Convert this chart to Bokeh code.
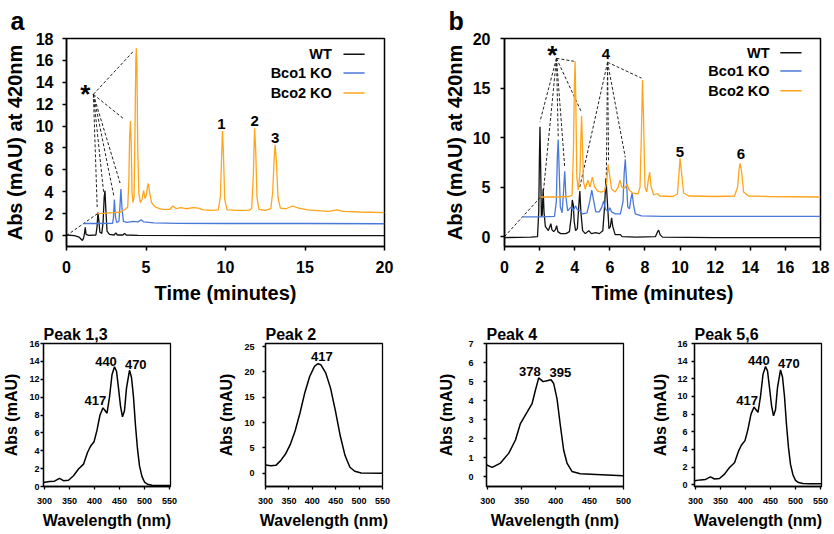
from bokeh.plotting import figure
from bokeh.layouts import column, row
from bokeh.core.properties import value
from bokeh.embed import file_html
from bokeh.resources import INLINE

FONT = "Liberation Sans"
C_WT = "#111111"
C_B1 = "#4a78d8"
C_B2 = "#ffa41b"
series_names = ["WT", "Bco1 KO", "Bco2 KO"]
series_colors = [C_WT, C_B1, C_B2]

# ---------------- panel a: chromatograms (time in min, Abs in mAU) ----------------
a_wt_t = [0.0, 0.5, 0.8, 1.0, 1.08, 1.14, 1.18, 1.23, 1.4, 1.85, 1.92, 1.98, 2.03, 2.1, 2.22, 2.3, 2.37,
          2.42, 2.47, 2.55, 2.7, 3.0, 3.1, 3.2, 3.55, 3.65, 3.75, 4.5, 10.0, 20.0]
a_wt_v = [0.05, 0.0, -0.15, -0.45, -0.2, 0.3, 0.75, 0.1, 0.02, 0.05, 0.8, 2.1, 1.4, 0.3, 0.2, 1.2, 3.5,
          4.1, 2.5, 0.4, 0.1, 0.05, 0.25, 0.05, 0.05, 0.2, 0.05, 0.02, 0.0, 0.0]
a_b1_t = [1.04, 2.0, 2.9, 2.95, 3.01, 3.08, 3.15, 3.3, 3.36, 3.42, 3.49, 3.58, 3.8, 4.2, 4.5, 4.7, 4.85,
          5.5, 7.0, 10.0, 15.0, 20.0]
a_b1_v = [1.1, 1.1, 1.12, 1.6, 3.3, 1.7, 1.2, 1.3, 2.6, 4.25, 2.5, 1.3, 1.2, 1.3, 1.25, 1.45, 1.25,
          1.15, 1.12, 1.1, 1.1, 1.08]
a_b2_t = [1.95, 2.5, 3.0, 3.4, 3.7, 3.85, 3.92, 3.97, 4.02, 4.07, 4.12, 4.18, 4.25, 4.31, 4.36, 4.39,
          4.43, 4.48, 4.55, 4.65, 4.75, 4.85, 4.93, 5.0, 5.1, 5.15, 5.22, 5.35, 5.6, 6.0, 6.5, 6.7,
          6.9, 7.2, 7.5, 8.0, 8.3, 8.6, 9.2, 9.55, 9.68, 9.75, 9.81, 9.87, 9.95, 10.1, 10.8, 11.5,
          11.65, 11.75, 11.83, 11.9, 11.98, 12.1, 12.5, 12.85, 12.97, 13.06, 13.12, 13.2, 13.3,
          13.45, 13.8, 14.2, 14.6, 15.2, 16.0, 16.5, 17.0, 17.4, 18.5, 20.0]
a_b2_v = [2.0, 2.05, 2.1, 2.15, 2.4, 2.6, 5.0, 9.0, 10.45, 8.5, 4.0, 3.0, 3.5, 10.0, 16.0, 17.1,
          15.5, 8.0, 3.8, 3.0, 3.3, 4.1, 3.4, 3.6, 4.5, 4.75, 4.0, 3.0, 2.6, 2.4, 2.4, 2.7,
          2.45, 2.55, 2.45, 2.55, 2.5, 2.35, 2.3, 2.35, 3.6, 7.0, 9.55, 7.5, 3.3, 2.35, 2.3, 2.3,
          2.5, 5.5, 9.8, 7.8, 3.5, 2.4, 2.3, 2.45, 4.0, 7.0, 8.3, 6.8, 3.5,
          2.5, 2.45, 2.7, 2.5, 2.35, 2.25, 2.2, 2.35, 2.2, 2.15, 2.1]
a_peak_text = ["1", "2", "3"]
a_peak_t = [9.75, 11.83, 13.13]
a_peak_v = [10.2, 10.45, 8.9]
a_star_pos = (1.19, 12.9)
a_star_anchor = (1.69, 12.9)
a_star_tgt_t = [4.25, 3.65, 1.93, 2.33, 2.98, 3.37]
a_star_tgt_v = [16.9, 10.6, 2.6, 4.0, 3.6, 4.8]
a_offset_t = [0.0, 1.95]
a_offset_v = [0.0, 2.0]
a_xticks = [0, 5, 10, 15, 20]
a_yticks = [0, 2, 4, 6, 8, 10, 12, 14, 16, 18]

# ---------------- panel b: chromatograms ----------------
b_wt_t = [0.0, 1.5, 1.88, 1.95, 1.99, 2.02, 2.06, 2.1, 2.15, 2.2, 2.25, 2.33, 2.42, 2.5, 2.58, 2.64,
          2.7, 2.8, 2.9, 2.97, 3.04, 3.2, 3.5, 3.7, 3.8, 3.86, 3.92, 3.97, 4.05, 4.15, 4.22, 4.29,
          4.35, 4.45, 4.6, 4.8, 4.95, 5.2, 5.4, 5.6, 5.7, 5.78, 5.85, 5.95, 6.03, 6.1, 6.17, 6.3,
          6.6, 6.7, 7.5, 8.6, 8.72, 8.78, 8.86, 9.0, 12.0, 18.0]
b_wt_v = [-0.1, -0.05, 0.0, 2.5, 8.0, 11.1, 7.0, 2.0, 2.2, 4.8, 2.5, 1.0, 0.8, 0.6, 1.0, 1.3,
          0.7, 0.5, 0.7, 1.1, 0.5, 0.3, 0.3, 0.5, 2.0, 3.7, 3.2, 1.5, 0.6, 0.8, 2.8, 4.6,
          2.5, 0.6, 0.3, 0.6, 0.3, 0.4, 0.3, 0.6, 3.0, 5.9, 3.8, 0.8, 1.0, 1.9, 1.0, 0.2,
          0.2, 0.0, -0.05, 0.0, 0.5, 0.65, 0.2, -0.05, -0.1, -0.1]
b_b1_t = [1.05, 2.0, 2.85, 2.95, 3.01, 3.06, 3.11, 3.18, 3.28, 3.36, 3.43, 3.5, 3.6, 3.7, 3.8, 3.9,
          4.05, 4.15, 4.3, 4.45, 4.7, 4.85, 4.97, 5.08, 5.2, 5.4, 5.55, 5.65, 5.75, 5.9, 6.0, 6.1,
          6.3, 6.6, 6.75, 6.82, 6.88, 6.94, 7.02, 7.12, 7.2, 7.27, 7.35, 7.45, 7.8, 9.0, 18.0]
b_b1_v = [2.0, 2.0, 2.05, 3.5, 8.0, 9.8, 7.0, 3.0, 2.4, 4.5, 6.6, 4.0, 2.6, 2.8, 3.0, 2.6,
          3.1, 2.7, 2.6, 2.3, 2.4, 3.5, 4.7, 3.6, 2.5, 2.5, 3.0, 3.6, 2.8, 2.5, 2.9, 2.5,
          2.3, 2.3, 3.5, 6.5, 7.8, 6.0, 3.0, 2.8, 3.8, 4.4, 3.2, 2.3, 2.1, 2.05, 2.05]
b_b2_t = [2.06, 3.0, 3.7, 3.85, 3.93, 3.98, 4.02, 4.06, 4.12, 4.2, 4.3, 4.36, 4.39, 4.43, 4.5, 4.6,
          4.75, 4.87, 5.0, 5.12, 5.3, 5.5, 5.7, 5.82, 5.9, 5.98, 6.1, 6.3, 6.48, 6.58, 6.68, 6.85,
          6.98, 7.1, 7.3, 7.6, 7.72, 7.8, 7.86, 7.92, 8.0, 8.1, 8.2, 8.27, 8.35, 8.5, 8.7, 8.85,
          9.6, 9.85, 9.93, 10.0, 10.08, 10.2, 10.5, 12.0, 13.1, 13.28, 13.36, 13.42, 13.5, 13.62,
          13.9, 15.0, 18.0]
b_b2_v = [4.0, 4.0, 4.05, 4.2, 9.0, 15.0, 17.7, 14.0, 6.0, 4.7, 6.5, 10.5, 12.2, 10.0, 5.5, 4.8,
          5.7, 5.0, 6.0, 5.1, 4.6, 4.5, 4.6, 5.5, 7.3, 6.3, 4.8, 4.5, 5.0, 5.7, 5.0, 4.9,
          5.3, 4.7, 4.4, 4.3, 5.0, 10.5, 15.8, 12.0, 5.0, 4.5, 5.8, 6.5, 5.0, 4.2, 4.35, 4.1,
          4.05, 4.3, 6.2, 7.9, 6.5, 4.4, 4.1, 4.05, 4.1, 5.0, 6.8, 7.4, 6.6, 4.5,
          4.1, 4.05, 4.0]
b_peak_text = ["4", "5", "6"]
b_peak_t = [5.78, 9.99, 13.47]
b_peak_v = [18.4, 8.5, 8.3]
b_star_pos = (2.72, 18.3)
b_star_anchor = (2.96, 18.0)
b_star_tgt_t = [2.02, 2.22, 3.06, 3.43, 4.35, 3.95]
b_star_tgt_v = [11.6, 4.6, 10.0, 7.0, 12.7, 17.7]
b_four_anchor = (5.87, 17.6)
b_four_tgt_t = [4.29, 5.8, 5.93, 6.88, 7.8]
b_four_tgt_v = [5.0, 6.1, 7.5, 8.0, 16.0]
b_offset_t = [0.0, 2.06]
b_offset_v = [0.0, 4.0]
b_xticks = [0, 2, 4, 6, 8, 10, 12, 14, 16, 18]
b_yticks = [0, 5, 10, 15, 20]

# ---------------- absorption spectra (nm, mAU) ----------------
carot_nm = [298, 310, 320, 330, 338, 348, 358, 368, 378, 386, 392, 399, 405, 411, 417, 421, 425,
            430, 435, 440, 444, 448, 452, 456, 460, 464, 470, 474, 478, 482, 486, 490, 495, 500,
            506, 515, 530, 552]
carot_abs = [0.45, 0.55, 0.6, 0.9, 0.65, 0.7, 1.2, 1.95, 2.5, 3.8, 4.5, 5.0, 6.3, 8.0, 8.8, 8.5, 8.2,
             10.0, 12.5, 13.4, 12.9, 11.0, 9.0, 7.8, 8.5, 11.0, 13.0, 12.2, 10.0, 6.8, 4.2, 2.3, 1.1,
             0.5, 0.25, 0.15, 0.1, 0.1]
carot_lab_text = ["417", "440", "470"]
p13_lab_nm = [401.8, 423.0, 482.5]
p13_lab_abs = [9.6, 14.0, 13.65]
p56_lab_nm = [403.4, 426.6, 486.6]
p56_lab_abs = [9.5, 14.1, 13.7]

p2_nm = [300, 311.7, 322, 332.4, 342.7, 353, 363.4, 373.7, 384, 394.4, 404.7, 411.6, 418.4, 428.7,
         439, 449.4, 459.7, 470, 480.4, 490.7, 504.5, 550]
p2_abs = [1.63, 1.5, 1.57, 2.5, 3.8, 5.7, 8.4, 11.9, 15.9, 19.1, 21.1, 21.6, 21.4, 19.8,
          16.8, 12.3, 7.4, 3.5, 1.2, 0.4, 0.07, 0.0]
p2_lab_text = ["417"]
p2_lab_nm = [420.5]
p2_lab_abs = [23.0]

p4_nm = [297.6, 306.4, 318.6, 330.9, 340.7, 348.0, 357.9, 365.2, 370.1, 375.0, 381.4, 387.3, 393.2,
         397.1, 402.0, 406.9, 411.8, 416.7, 424.0, 436.3, 499.2]
p4_abs = [0.64, 0.5, 0.73, 1.25, 1.94, 2.8, 3.4, 3.85, 4.55, 5.2, 5.0, 5.05, 5.1,
          4.9, 4.1, 2.7, 1.4, 0.73, 0.29, 0.17, 0.07]
p4_lab_text = ["378", "395"]
p4_lab_nm = [361.8, 407.0]
p4_lab_abs = [5.53, 5.5]

wl_ticks_550 = [300, 350, 400, 450, 500, 550]
wl_ticks_500 = [300, 350, 400, 450, 500]


def base_fig(w, h, xr, yr, ml, mr, mt, mb, ow, title):
    p = figure(width=w, height=h, x_range=xr, y_range=yr, output_backend="svg",
               toolbar_location=None, min_border_left=ml, min_border_right=mr,
               min_border_top=mt, min_border_bottom=mb, title=title)
    p.xgrid.visible = False
    p.ygrid.visible = False
    p.outline_line_color = "black"
    p.outline_line_width = ow
    p.background_fill_color = "white"
    p.border_fill_color = "white"
    p.title.align = "left"
    p.title.text_font = FONT
    p.title.text_font_style = "bold"
    p.title.text_color = "black"
    return p


def style_axes(p, xticks, yticks, xlabel, ylabel, tick_px, lab_px, tick_out, lw,
               x_std, y_std, x_lstd, y_lstd):
    p.xaxis.ticker = xticks
    p.yaxis.ticker = yticks
    p.xaxis.axis_label = xlabel
    p.yaxis.axis_label = ylabel
    for ax in (p.xaxis[0], p.yaxis[0]):
        ax.axis_line_color = "black"
        ax.axis_line_width = lw
        ax.major_tick_line_color = "black"
        ax.major_tick_line_width = lw
        ax.major_tick_in = 0
        ax.major_tick_out = tick_out
        ax.minor_tick_line_color = None
        ax.major_label_text_font = FONT
        ax.major_label_text_font_style = "bold"
        ax.major_label_text_font_size = tick_px
        ax.major_label_text_color = "black"
        ax.axis_label_text_font = FONT
        ax.axis_label_text_font_style = "bold"
        ax.axis_label_text_font_size = lab_px
        ax.axis_label_text_color = "black"
    p.xaxis[0].major_label_standoff = x_std
    p.yaxis[0].major_label_standoff = y_std
    p.xaxis[0].axis_label_standoff = x_lstd
    p.yaxis[0].axis_label_standoff = y_lstd


def bold_text(p, xs, ys, texts, size, align="center", baseline="middle"):
    p.text(x=xs, y=ys, text=texts, text_font=value(FONT), text_font_style="bold",
           text_font_size=size, text_align=align, text_baseline=baseline, text_color="black")


def connectors(p, anchor, tt, tv):
    p.segment(x0=[anchor[0]] * len(tt), y0=[anchor[1]] * len(tv), x1=tt, y1=tv,
              line_color="#222222", line_width=1, line_dash="3 2")


# ---------------- figure a ----------------
pa = base_fig(440, 318, (0, 20), (-1, 18), 64, 56, 37, 72, 1.5, "a")
pa.title.text_font_size = "25px"
pa.title.offset = -56
pa.title.standoff = 8
style_axes(pa, a_xticks, a_yticks, "Time (minutes)", "Abs (mAU) at 420nm", "16px", "20px",
           4, 1.5, 10, 9, 6, 7)
pa.line(a_offset_t, a_offset_v, line_color="#222222", line_width=1, line_dash="3 2")
connectors(pa, a_star_anchor, a_star_tgt_t, a_star_tgt_v)
pa.line(a_wt_t, a_wt_v, line_color=C_WT, line_width=1.3)
pa.line(a_b1_t, a_b1_v, line_color=C_B1, line_width=1.3)
pa.line(a_b2_t, a_b2_v, line_color=C_B2, line_width=1.3)
bold_text(pa, a_peak_t, a_peak_v, a_peak_text, "15px")
bold_text(pa, [a_star_pos[0]], [a_star_pos[1]], ["*"], "26px", baseline="alphabetic")
a_leg_v = [16.57, 14.85, 13.03]
bold_text(pa, [16.69] * 3, a_leg_v, series_names, "14.5px", align="right")
pa.segment(x0=[17.42] * 3, y0=a_leg_v, x1=[18.75] * 3, y1=a_leg_v, line_color=series_colors,
           line_width=1.5)

# ---------------- figure b ----------------
pb = base_fig(394, 318, (0, 18), (-1, 20), 59, 14, 37, 71, 1.5, "b")
pb.title.text_font_size = "25px"
pb.title.offset = -56
pb.title.standoff = 8
style_axes(pb, b_xticks, b_yticks, "Time (minutes)", "Abs (mAU) at 420nm", "16px", "20px",
           4, 1.5, 10, 10, 6, 4)
pb.line(b_offset_t, b_offset_v, line_color="#222222", line_width=1, line_dash="3 2")
connectors(pb, b_star_anchor, b_star_tgt_t, b_star_tgt_v)
connectors(pb, b_four_anchor, b_four_tgt_t, b_four_tgt_v)
pb.line(b_wt_t, b_wt_v, line_color=C_WT, line_width=1.3)
pb.line(b_b1_t, b_b1_v, line_color=C_B1, line_width=1.3)
pb.line(b_b2_t, b_b2_v, line_color=C_B2, line_width=1.3)
bold_text(pb, b_peak_t, b_peak_v, b_peak_text, "15px")
bold_text(pb, [b_star_pos[0]], [b_star_pos[1]], ["*"], "26px", baseline="alphabetic")
b_leg_v = [18.56, 16.73, 14.73]
bold_text(pb, [15.1] * 3, b_leg_v, series_names, "14.5px", align="right")
pb.segment(x0=[15.71] * 3, y0=b_leg_v, x1=[16.92] * 3, y1=b_leg_v, line_color=series_colors,
           line_width=1.5)


# ---------------- spectra ----------------
def spectrum(w, xr, yr, ml, mr, title, nm, ab, xticks, yticks, lab_nm, lab_ab, lab_text,
             y_std, y_lstd):
    p = base_fig(w, 214, xr, yr, ml, mr, 25, 46, 1.3, title)
    p.title.text_font_size = "16px"
    p.title.standoff = 1
    p.title.offset = 0
    style_axes(p, xticks, yticks, "Wavelength (nm)", "Abs (mAU)", "9px", "16px",
               3, 1.3, 8, y_std, 5, y_lstd)
    p.line(nm, ab, line_color="black", line_width=1.5)
    bold_text(p, lab_nm, lab_ab, lab_text, "13px")
    return p


f1 = spectrum(215, (298, 552), (0, 16), 42, 45, "Peak 1,3", carot_nm, carot_abs, wl_ticks_550,
              [0, 2, 4, 6, 8, 10, 12, 14, 16], p13_lab_nm, p13_lab_abs, carot_lab_text, 1, 6)
f2 = spectrum(205, (300, 550), (-2.6, 25.6), 46, 38, "Peak 2", p2_nm, p2_abs, wl_ticks_550,
              [0, 5, 10, 15, 20, 25], p2_lab_nm, p2_lab_abs, p2_lab_text, 8, 6)
f3 = spectrum(220, (298, 500), (-0.5, 7), 66, 17, "Peak 4", p4_nm, p4_abs, wl_ticks_500,
              [0, 1, 2, 3, 4, 5, 6, 7], p4_lab_nm, p4_lab_abs, p4_lab_text, 10, 10)
f4 = spectrum(194, (298, 552), (-0.2, 16), 54, 13, "Peak 5,6", carot_nm, carot_abs, wl_ticks_550,
              [0, 2, 4, 6, 8, 10, 12, 14, 16], p56_lab_nm, p56_lab_abs, carot_lab_text, 4, 5)

layout = column(row(pa, pb), row(f1, f2, f3, f4))
open("out.html", "w").write(file_html(layout, INLINE, title="HPLC chromatograms"))
